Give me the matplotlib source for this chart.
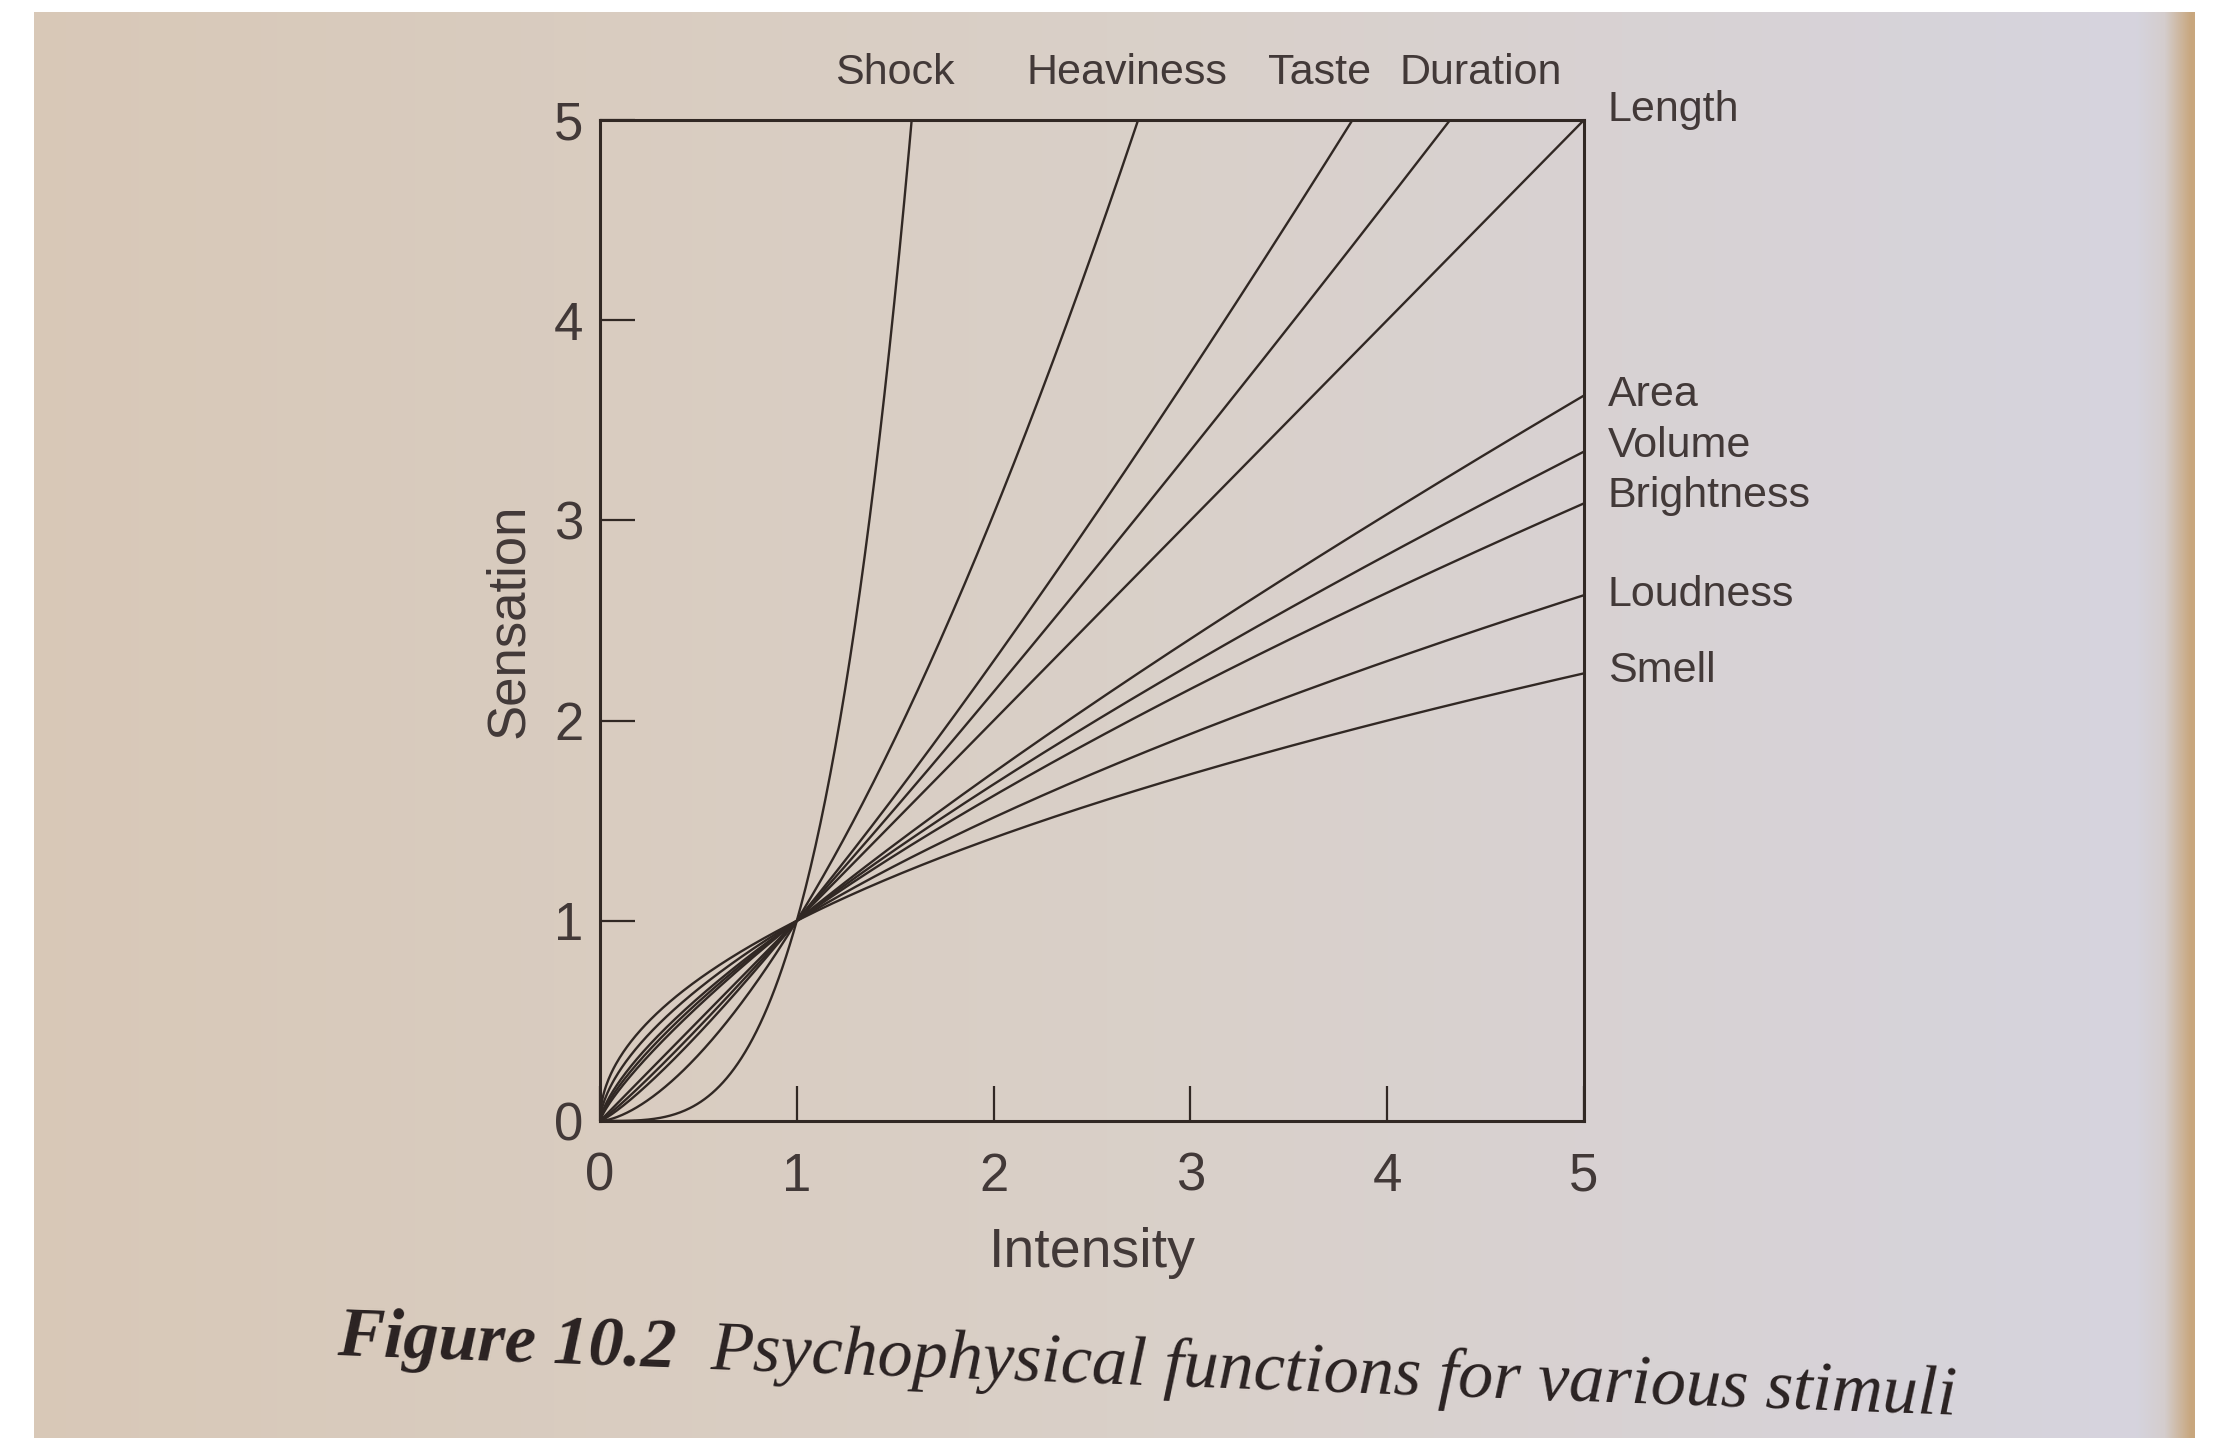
import numpy as np
import matplotlib.pyplot as plt

plt.rcParams['font.family'] = ['Liberation Sans', 'DejaVu Sans']

# Stevens power-law exponents (sensation = intensity ** n)
top_names = ['Shock', 'Heaviness', 'Taste', 'Duration']
top_exps = [3.5, 1.6, 1.2, 1.1]
right_names = ['Length', 'Area', 'Volume', 'Brightness', 'Loudness', 'Smell']
right_exps = [1.0, 0.8, 0.75, 0.7, 0.6, 0.5]
ticks = [0, 1, 2, 3, 4, 5]
caption_head = 'Figure 10.2'
caption_body = 'Psychophysical functions for various stimuli'

W, H = 2214, 1438
ink = '#312824'
txt = '#423938'

fig = plt.figure(figsize=(W / 100, H / 100), dpi=100)

# paper background: warm beige on the left, cooler grey on the right
bg = fig.add_axes([0, 0, 1, 1], zorder=-10)
stops = np.array([[216, 200, 183], [218, 208, 200], [214, 212, 222],
                  [212, 205, 205], [200, 166, 125]]) / 255
t = np.linspace(0, 1, W)
pos = [0, 0.5, 0.965, 0.978, 0.99]
row = np.stack([np.interp(t, pos, stops[:, k]) for k in range(3)], axis=1)
img = np.repeat(row[None, :, :], H, axis=0)
img[:12, :] = 1
img[:, :34] = 1
img[:, 2195:] = 1
bg.imshow(img, extent=[0, W, H, 0], aspect='auto', interpolation='nearest')
bg.axis('off')

ax = fig.add_axes([600 / W, 1 - 1121 / H, 984 / W, 1001 / H])
ax.set_facecolor('none')

x = np.linspace(0, 5, 800)
for n in top_exps + right_exps:
    ax.plot(x, x ** n, color=ink, lw=1.7)

ax.set_xlim(0, 5)
ax.set_ylim(0, 5)
ax.set_xticks(ticks)
ax.set_yticks(ticks)
ax.tick_params(direction='in', length=25, width=1.6, color=ink,
               labelsize=38, labelcolor=txt)
ax.tick_params(axis='x', pad=22)
ax.tick_params(axis='y', pad=12)
for s in ax.spines.values():
    s.set_linewidth(2.2)
    s.set_color(ink)
ax.set_xlabel('Intensity', fontsize=40, color=txt, labelpad=18)
ax.set_ylabel('Sensation', fontsize=38, color=txt, labelpad=14)

top_dx = [-12, -8, -24, 22]
for name, n, dx in zip(top_names, top_exps, top_dx):
    ax.annotate(name, xy=(5 ** (1 / n), 5), xytext=(dx, 26),
                textcoords='offset points', ha='center', va='baseline',
                fontsize=31, color=txt, annotation_clip=False)

right_dy = [7, 0, 4, 5, 0, 2]
for name, n, dy in zip(right_names, right_exps, right_dy):
    ax.annotate(name, xy=(5, 5 ** n), xytext=(17, dy),
                textcoords='offset points', ha='left', va='center',
                fontsize=31, color=txt, annotation_clip=False)

# caption, slightly tilted like the photographed page
ang = -2.1
cap_kw = dict(family='Liberation Serif', style='italic', fontsize=50.5,
              color='#2a2222', ha='left', va='baseline',
              rotation=ang, rotation_mode='anchor')
x0, y0 = 337, 1355
t1 = fig.text(x0 / W, 1 - y0 / H, caption_head, weight='bold', **cap_kw)
fig.canvas.draw()
r = fig.canvas.get_renderer()
t1.set_rotation(0)
w1 = t1.get_window_extent(r).width
t1.set_rotation(ang)
step = w1 + 34
th = np.deg2rad(ang)
x1 = x0 + step * np.cos(th)
y1 = y0 - step * np.sin(th)
fig.text(x1 / W, 1 - y1 / H, caption_body, **cap_kw)

fig.savefig('out.png', dpi=100)
